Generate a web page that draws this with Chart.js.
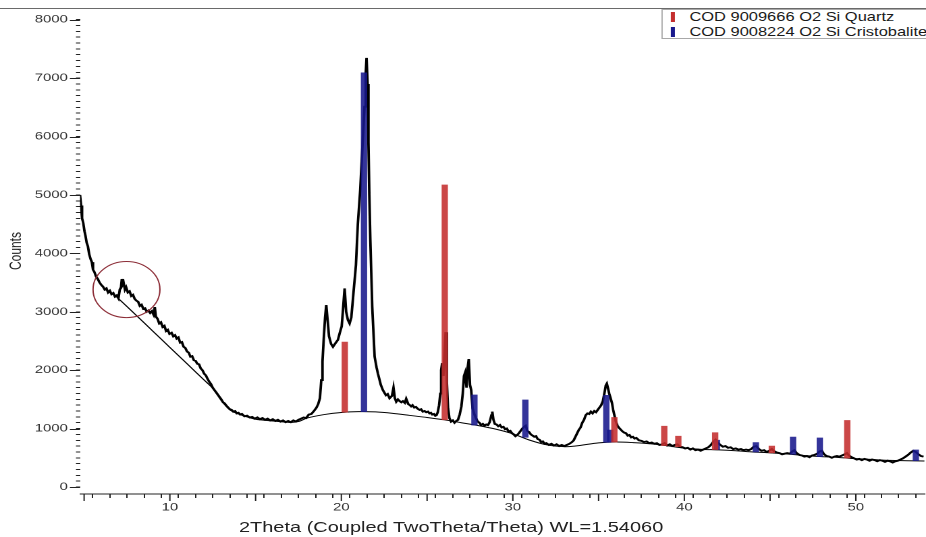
<!DOCTYPE html>
<html>
<head>
<meta charset="utf-8">
<script src="https://cdn.jsdelivr.net/npm/chart.js@4/dist/chart.umd.min.js"></script>
<style>
  html, body { margin: 0; padding: 0; background: #fff; overflow: hidden; }
  /* the source image is stretched horizontally, so draw narrow and scale */
  #wrap { position: relative; width: 686px; height: 537px; transform: scaleX(1.3499); transform-origin: 0 0; overflow: hidden; }
  #legendBox { position: absolute; left: 489.7px; top: 9px; width: 215px; height: 28px; border: 1px solid #a8a8a8; background: #fff;
    font-family: "Liberation Sans", Arial, sans-serif; font-size: 12.2px; color: #1a1a1a; }
  .lg-row { position: absolute; left: 0; height: 14px; line-height: 14px; white-space: nowrap; }
  .lg-mark { position: absolute; left: 6px; top: 2px; width: 3px; height: 10px; }
  .lg-text { position: absolute; left: 20px; top: 0; }
  #xTitle { position: absolute; left: 177px; top: 518px; font-family: "Liberation Sans", Arial, sans-serif;
    font-size: 14.8px; line-height: 18px; color: #222; white-space: nowrap; }
</style>
</head>
<body>
<div id="wrap">
  <canvas id="xrdChart"></canvas>
  <div id="legendBox">
    <div class="lg-row" style="top:0px"><span class="lg-mark" style="background:rgb(196,46,46)"></span><span class="lg-text">COD 9009666 O2 Si Quartz</span></div>
    <div class="lg-row" style="top:15px"><span class="lg-mark" style="background:rgb(24,24,140)"></span><span class="lg-text">COD 9008224 O2 Si Cristobalite</span></div>
  </div>
  <div id="xTitle">2Theta (Coupled TwoTheta/Theta) WL=1.54060</div>
</div>
<script>
(function () {
    "use strict";

    // measured scan: [2theta, counts]
    var scanPoints = [
        [4.76,5000],[4.82,4820],[4.88,4600],[4.95,4520],[5.02,4380],[5.08,4300],[5.15,4180],[5.22,4120],[5.3,3980],[5.38,3900],
        [5.45,3850],[5.52,3720],[5.6,3680],[5.7,3600],[5.8,3560],[5.9,3500],[6.0,3460],[6.1,3430],[6.2,3380],[6.3,3400],
        [6.4,3330],[6.5,3360],[6.6,3300],[6.7,3320],[6.8,3260],[6.9,3280],[7.0,3230],[7.08,3380],[7.15,3420],[7.2,3560],
        [7.25,3470],[7.3,3500],[7.38,3380],[7.45,3420],[7.55,3330],[7.65,3350],[7.75,3270],[7.85,3290],[7.95,3220],[8.05,3190],
        [8.15,3170],[8.25,3100],[8.35,3120],[8.45,3050],[8.55,3060],[8.65,3000],[8.75,3020],[8.85,2980],[8.95,3010],[9.05,2950],
        [9.12,3080],[9.18,2920],[9.28,2880],[9.38,2800],[9.48,2820],[9.58,2740],[9.68,2760],[9.78,2670],[9.88,2690],[9.98,2620],
        [10.1,2640],[10.2,2580],[10.3,2600],[10.4,2540],[10.5,2560],[10.6,2470],[10.7,2480],[10.8,2400],[10.9,2380],[11.0,2320],
        [11.1,2300],[11.2,2230],[11.3,2240],[11.4,2170],[11.5,2160],[11.6,2110],[11.7,2100],[11.8,2030],[11.9,2000],[12.0,1940],
        [12.1,1910],[12.2,1850],[12.3,1800],[12.4,1760],[12.5,1700],[12.6,1660],[12.7,1620],[12.8,1580],[12.9,1540],[13.0,1500],
        [13.1,1450],[13.2,1430],[13.3,1390],[13.4,1360],[13.5,1330],[13.6,1320],[13.7,1290],[13.8,1300],[13.9,1260],[14.0,1270],
        [14.1,1240],[14.2,1250],[14.35,1210],[14.5,1220],[14.65,1190],[14.8,1200],[14.95,1170],[15.1,1190],[15.25,1160],[15.4,1180],
        [15.55,1150],[15.7,1170],[15.85,1140],[16.0,1160],[16.15,1130],[16.3,1150],[16.45,1120],[16.6,1140],[16.75,1110],[16.9,1130],
        [17.05,1110],[17.2,1140],[17.35,1120],[17.5,1150],[17.65,1170],[17.8,1190],[17.95,1180],[18.1,1240],[18.25,1250],[18.4,1300],
        [18.55,1360],[18.65,1420],[18.75,1520],[18.83,1830],[18.9,2150],[18.97,2520],[19.05,2900],[19.12,3115],[19.2,2850],[19.28,2580],
        [19.4,2450],[19.51,2400],[19.65,2460],[19.8,2520],[19.92,2650],[20.02,2750],[20.1,3050],[20.19,3400],[20.28,3000],[20.38,2860],
        [20.48,2800],[20.58,2900],[20.7,3300],[20.85,3800],[20.96,4500],[21.1,5080],[21.22,5770],[21.35,6510],[21.42,7080],[21.47,7345],
        [21.53,6900],[21.58,5900],[21.63,5000],[21.69,4230],[21.8,3085],[21.94,2230],[22.05,2050],[22.13,1945],[22.3,1750],[22.42,1660],
        [22.6,1570],[22.7,1590],[22.81,1520],[22.95,1560],[23.04,1700],[23.12,1520],[23.2,1460],[23.3,1500],[23.4,1470],[23.5,1450],
        [23.59,1470],[23.7,1440],[23.78,1510],[23.9,1420],[24.0,1400],[24.07,1380],[24.15,1400],[24.25,1360],[24.35,1370],[24.45,1340],
        [24.56,1320],[24.65,1330],[24.75,1290],[24.85,1300],[24.95,1280],[25.05,1290],[25.14,1260],[25.22,1270],[25.3,1240],[25.4,1250],
        [25.48,1220],[25.55,1230],[25.62,1280],[25.7,1400],[25.77,1600],[25.82,2000],[25.88,2120],[25.95,1900],[26.02,2300],[26.08,2650],
        [26.15,1800],[26.22,1350],[26.3,1180],[26.4,1120],[26.5,1140],[26.6,1100],[26.7,1130],[26.8,1150],[26.9,1240],[27.0,1380],
        [27.08,1600],[27.15,1900],[27.22,1960],[27.3,1700],[27.37,2050],[27.43,2190],[27.5,1750],[27.57,1660],[27.65,1350],[27.75,1250],
        [27.85,1180],[27.95,1120],[28.05,1100],[28.15,1060],[28.25,1080],[28.35,1050],[28.45,1070],[28.55,1060],[28.65,1110],[28.75,1230],
        [28.8,1290],[28.87,1150],[28.95,1080],[29.05,1070],[29.15,1040],[29.25,1060],[29.35,1020],[29.45,1030],[29.55,990],[29.65,1000],
        [29.75,950],[29.85,960],[29.95,920],[30.05,900],[30.15,870],[30.25,890],[30.35,920],[30.45,960],[30.55,1000],[30.65,1030],
        [30.75,1050],[30.85,960],[30.95,940],[31.05,900],[31.15,880],[31.25,860],[31.35,870],[31.45,820],[31.55,810],[31.65,770],
        [31.75,780],[31.85,740],[31.95,750],[32.1,720],[32.25,740],[32.4,710],[32.55,730],[32.7,700],[32.85,720],[33.0,700],
        [33.15,720],[33.3,740],[33.45,770],[33.55,800],[33.65,860],[33.75,920],[33.85,980],[33.95,1020],[34.05,1100],[34.15,1150],
        [34.25,1230],[34.35,1260],[34.45,1250],[34.55,1290],[34.65,1260],[34.75,1300],[34.85,1280],[34.95,1320],[35.05,1360],[35.15,1400],
        [35.25,1470],[35.35,1620],[35.42,1740],[35.48,1770],[35.55,1690],[35.62,1600],[35.7,1520],[35.78,1440],[35.85,1320],[35.92,1230],
        [36.0,1130],[36.1,1050],[36.2,1010],[36.3,980],[36.4,950],[36.5,930],[36.6,920],[36.7,880],[36.8,890],[36.9,850],
        [37.0,860],[37.1,830],[37.2,840],[37.35,800],[37.5,790],[37.65,770],[37.8,780],[37.95,750],[38.1,760],[38.25,740],
        [38.4,750],[38.55,720],[38.7,730],[38.85,750],[39.0,710],[39.15,730],[39.3,700],[39.45,720],[39.6,730],[39.75,690],
        [39.9,680],[40.05,660],[40.2,670],[40.35,640],[40.5,660],[40.65,630],[40.8,640],[40.95,620],[41.1,640],[41.25,660],
        [41.4,680],[41.55,720],[41.7,780],[41.82,810],[41.95,760],[42.1,720],[42.25,690],[42.4,700],[42.55,670],[42.7,680],
        [42.85,650],[43.0,660],[43.15,640],[43.3,650],[43.45,630],[43.6,640],[43.75,630],[43.9,650],[44.05,690],[44.2,700],
        [44.35,650],[44.5,620],[44.65,630],[44.8,600],[44.95,620],[45.1,650],[45.25,610],[45.4,590],[45.55,580],[45.7,560],
        [45.85,570],[46.0,580],[46.15,570],[46.3,610],[46.42,630],[46.55,580],[46.7,550],[46.85,540],[47.0,520],[47.15,530],
        [47.3,510],[47.45,540],[47.6,550],[47.75,570],[47.9,610],[48.02,620],[48.15,560],[48.3,530],[48.45,520],[48.6,500],
        [48.75,520],[48.9,530],[49.05,520],[49.2,540],[49.35,560],[49.48,580],[49.6,540],[49.75,510],[49.9,490],[50.05,470],
        [50.2,480],[50.35,460],[50.5,480],[50.65,470],[50.8,450],[50.95,470],[51.1,460],[51.25,440],[51.4,460],[51.55,450],
        [51.7,430],[51.85,450],[52.0,440],[52.15,420],[52.3,440],[52.45,450],[52.6,470],[52.75,490],[52.9,520],[53.05,550],
        [53.2,590],[53.35,620],[53.5,600],[53.65,560],[53.8,530],[53.95,520]
    ];

    // fitted background curve
    var backgroundPoints = [
        [6.97,3235],[8,2950],[9,2670],[10,2390],[11,2110],[12,1830],[12.5,1690],[13,1480],[13.5,1320],[14,1250],
        [14.5,1200],[15,1160],[16,1130],[17,1105],[17.5,1120],[18,1180],[19,1240],[20,1275],[21,1290],[22,1285],
        [23,1260],[24,1225],[25,1190],[26,1150],[27,1100],[28,1050],[29,990],[30,910],[31,800],[32,720],
        [33,690],[33.6,700],[34,715],[35,755],[36,770],[37,760],[38,740],[39,705],[40,665],[41,645],
        [42,635],[43,620],[44,600],[45,585],[46,565],[47,540],[48,520],[49,505],[50,485],[51,470],
        [52,455],[53,450],[54,445]
    ];

    // reference sticks (position, base on background, top)
    var quartzPos  = [20.2, 26.03, 35.92, 38.83, 39.65, 41.8, 45.1, 49.5];
    var quartzBase = [1280, 1150, 770, 710, 690, 640, 585, 495];
    var quartzTop  = [2480, 5170, 1190, 1040, 870, 930, 700, 1140];

    var cristPos  = [21.32, 27.76, 30.73, 35.45, 35.68, 41.9, 44.17, 46.34, 47.9, 53.5];
    var cristBase = [1290, 1060, 850, 765, 770, 640, 600, 560, 520, 450];
    var cristTop  = [7090, 1575, 1490, 1570, 975, 800, 760, 855, 840, 635];

    // highlighted region (data units)
    var markCenter = [7.47, 3380];
    var markRadius = [1.95, 480];

    var xTickValues = [];
    for (var t = 5; t <= 54; t++) xTickValues.push(t);
    var yTickValues = [];
    for (var v = 0; v <= 8000; v += 100) yTickValues.push(v);

    function toXY(list) { return list.map(function (p) { return { x: p[0], y: p[1] }; }); }
    function sticks(pos, base, top) {
        return pos.map(function (p, i) { return { x: p, y: [base[i], top[i]] }; });
    }

    var fontFamily = "'Liberation Sans', Arial, sans-serif";

    var decorations = {
        id: "decorations",
        afterDraw: function (chart) {
            var ctx = chart.ctx, area = chart.chartArea;
            var xs = chart.scales.x, ys = chart.scales.y;
            ctx.save();
            // frame line along top
            ctx.strokeStyle = "#6a6a6a";
            ctx.lineWidth = 1;
            ctx.beginPath();
            ctx.moveTo(0, Math.round(area.top) + 0.5);
            ctx.lineTo(chart.width, Math.round(area.top) + 0.5);
            ctx.stroke();
            // longer major ticks
            ctx.strokeStyle = "#222";
            ctx.beginPath();
            yTickValues.forEach(function (val) {
                if (val % 1000 !== 0) return;
                var py = Math.round(ys.getPixelForValue(val)) + 0.5;
                ctx.moveTo(area.left - 7.5, py);
                ctx.lineTo(area.left, py);
            });
            xTickValues.forEach(function (val) {
                if (val % 5 !== 0) return;
                var px = xs.getPixelForValue(val);
                ctx.moveTo(px, area.bottom);
                ctx.lineTo(px, area.bottom + 7);
            });
            ctx.stroke();
            // ellipse around the small peak
            var cx = xs.getPixelForValue(markCenter[0]);
            var cy = ys.getPixelForValue(markCenter[1]);
            var rx = Math.abs(xs.getPixelForValue(markCenter[0] + markRadius[0]) - cx);
            var ry = Math.abs(ys.getPixelForValue(markCenter[1] + markRadius[1]) - cy);
            ctx.strokeStyle = "rgb(140,45,55)";
            ctx.lineWidth = 1;
            ctx.beginPath();
            ctx.ellipse(cx, cy, rx, ry, 0, 0, Math.PI * 2);
            ctx.stroke();
            ctx.restore();
        }
    };

    new Chart(document.getElementById("xrdChart"), {
        type: "line",
        data: {
            datasets: [
                { type: "bar", label: "COD 9009666 O2 Si Quartz", data: sticks(quartzPos, quartzBase, quartzTop),
                  backgroundColor: "rgba(196,46,46,0.88)", borderWidth: 0, barThickness: 4, grouped: false, order: 0 },
                { type: "bar", label: "COD 9008224 O2 Si Cristobalite", data: sticks(cristPos, cristBase, cristTop),
                  backgroundColor: "rgba(24,24,140,0.88)", borderWidth: 0, barThickness: 4, grouped: false, order: 0 },
                { type: "line", label: "background", data: toXY(backgroundPoints), borderColor: "#000",
                  borderWidth: 1, pointRadius: 0, tension: 0.3, fill: false, order: 2 },
                { type: "line", label: "scan", data: toXY(scanPoints), borderColor: "#000",
                  borderWidth: 1.9, pointRadius: 0, tension: 0, fill: false, order: 1 }
            ]
        },
        options: {
            responsive: true,
            maintainAspectRatio: false,
            animation: false,
            devicePixelRatio: 2,
            layout: { padding: { top: 8, right: 0, bottom: 0, left: 0 } },
            plugins: { legend: { display: false }, tooltip: { enabled: false } },
            scales: {
                x: {
                    type: "linear",
                    min: 4.76,
                    max: 54.02,
                    offset: false,
                    afterFit: function (s) { s.height = 43; s.paddingLeft = 0; s.paddingRight = 0; },
                    afterBuildTicks: function (s) { s.ticks = xTickValues.map(function (val) { return { value: val }; }); },
                    ticks: {
                        autoSkip: false,
                        maxRotation: 0,
                        padding: 3,
                        color: "#333",
                        font: { family: fontFamily, size: 11 },
                        callback: function (val) { return val % 10 === 0 ? String(val) : ""; }
                    },
                    grid: { drawOnChartArea: false, drawTicks: true, tickLength: 4, color: "#222" },
                    border: { display: true, color: "#222", width: 1 },
                    title: { display: false }
                },
                y: {
                    min: -120,
                    max: 8200,
                    afterFit: function (s) { s.width = 59.26; s.paddingTop = 0; s.paddingBottom = 0; },
                    afterBuildTicks: function (s) { s.ticks = yTickValues.map(function (val) { return { value: val }; }); },
                    ticks: {
                        autoSkip: false,
                        padding: 6,
                        color: "#333",
                        font: { family: fontFamily, size: 11 },
                        callback: function (val) { return val % 1000 === 0 ? String(val) : ""; }
                    },
                    grid: { drawOnChartArea: false, drawTicks: true, tickLength: 3, color: "#222" },
                    border: { display: false },
                    title: {
                        display: true,
                        text: "Counts",
                        color: "#222",
                        font: { family: fontFamily, size: 12 },
                        padding: { top: 5, bottom: 0 }
                    }
                }
            }
        },
        plugins: [decorations]
    });
})();
</script>
</body>
</html>
